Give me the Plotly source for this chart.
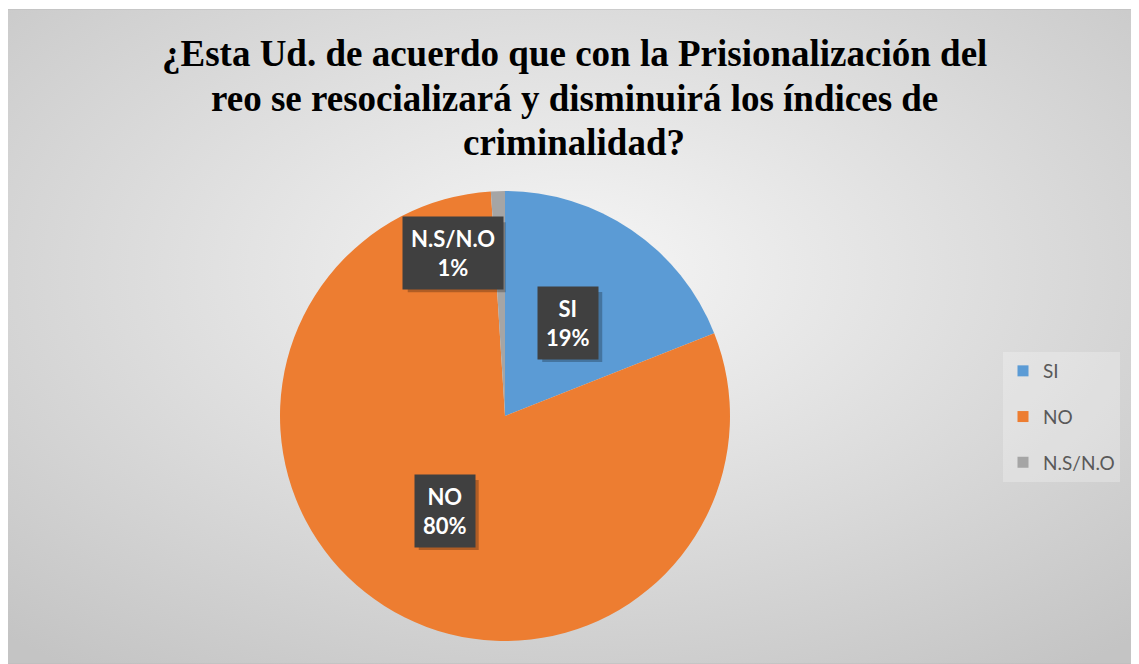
import base64
import numpy as np
import plotly.graph_objects as go

# data
categories = ["SI", "NO", "N.S/N.O"]
values = [19, 80, 1]
colors = ["#5B9BD5", "#ED7D31", "#A5A5A5"]
title_lines = [
    "¿Esta Ud. de acuerdo que con la Prisionalización del",
    "reo se resocializará y disminuirá los índices de",
    "criminalidad?",
]

W, H = 1139, 664
OFF = 8  # page body margin, positions below are screen pixels


def px_x(x):
    return (x - OFF) / W


def px_y(y):
    return 1 - (y - OFF) / H


# pie placement (screen pixels)
cx, cy, R = 505, 416, 225

fig = go.Figure()
fig.add_trace(go.Pie(
    labels=categories,
    values=values,
    marker=dict(colors=colors, line=dict(width=0)),
    sort=False,
    direction="clockwise",
    rotation=0,
    textinfo="none",
    hoverinfo="label+percent",
    showlegend=False,
    domain=dict(x=[px_x(cx - R), px_x(cx + R)], y=[px_y(cy + R), px_y(cy - R)]),
))

# legend entries as dummy traces so the spacing can be controlled
for i, (cat, col) in enumerate(zip(categories, colors)):
    fig.add_trace(go.Scatter(
        x=[None], y=[None], mode="markers", name=cat,
        marker=dict(symbol="square", size=11, color=col),
        legendgroup=f"g{i}", showlegend=True,
    ))

# data labels at slice middles, nudged like Excel's best fit
frac = np.array(values) / np.sum(values)
mid = (np.cumsum(frac) - frac / 2) * 360
radial = [0.50, 0.50, 0.76]
nudge = [0, 0, -16]
box_w = [60, 60, 98]  # approx label box widths for the drop shadow
box_h = 70
for i, cat in enumerate(categories):
    a = np.radians(mid[i] + nudge[i])
    lx = px_x(cx + radial[i] * R * np.sin(a))
    ly = px_y(cy - radial[i] * R * np.cos(a))
    # drop shadow
    fig.add_shape(type="rect", xref="paper", yref="paper",
                  xsizemode="pixel", ysizemode="pixel", xanchor=lx, yanchor=ly,
                  x0=-box_w[i] / 2 + 4, x1=box_w[i] / 2 + 4,
                  y0=-box_h / 2 - 4, y1=box_h / 2 - 4,
                  fillcolor="rgba(0,0,0,0.25)", line=dict(width=0))
    fig.add_annotation(text=f"<b>{cat}<br>{round(frac[i] * 100)}%</b>",
                       x=lx, y=ly, xref="paper", yref="paper",
                       xanchor="center", yanchor="middle",
                       showarrow=False, borderpad=8, bgcolor="#404040",
                       font=dict(family="Lato", size=22, color="white"))

# title, one line per annotation for Word-like line spacing
for j, line in enumerate(title_lines):
    fig.add_annotation(text=f"<b>{line}</b>", x=px_x(574), y=px_y(54 + 44 * j),
                       xref="paper", yref="paper", showarrow=False,
                       xanchor="center", yanchor="middle",
                       font=dict(family="Liberation Serif", size=37, color="black"))

# radial gradient chart area
gw, gh = W, H
svg = f"""<svg xmlns='http://www.w3.org/2000/svg' width='{gw}' height='{gh}'>
<defs><radialGradient id='g' cx='50%' cy='40%' r='75%'>
<stop offset='0%' stop-color='#f6f6f6'/><stop offset='100%' stop-color='#c4c4c4'/>
</radialGradient></defs>
<rect x='0' y='0' width='{gw}' height='{gh}' fill='url(#g)' stroke='#bdbdbd' stroke-width='1'/>
</svg>"""
src = "data:image/svg+xml;base64," + base64.b64encode(svg.encode()).decode()

fig.update_layout(
    width=W, height=H,
    margin=dict(l=0, r=0, t=0, b=0),
    paper_bgcolor="white",
    plot_bgcolor="rgba(0,0,0,0)",
    xaxis=dict(visible=False, domain=[0.9, 0.91]),
    yaxis=dict(visible=False, domain=[0.9, 0.91]),
    images=[dict(source=src, xref="paper", yref="paper", x=px_x(6), y=px_y(9),
                 sizex=(1139 - 6) / W, sizey=(664 - 9) / H, sizing="stretch",
                 xanchor="left", yanchor="top", layer="below")],
    legend=dict(x=px_x(1003), y=px_y(352), xanchor="left", yanchor="top",
                bgcolor="rgba(255,255,255,0.25)", traceorder="grouped",
                tracegroupgap=18, itemwidth=30,
                font=dict(family="Lato", size=19, color="#595959")),
)

fig.write_html("out.html")
